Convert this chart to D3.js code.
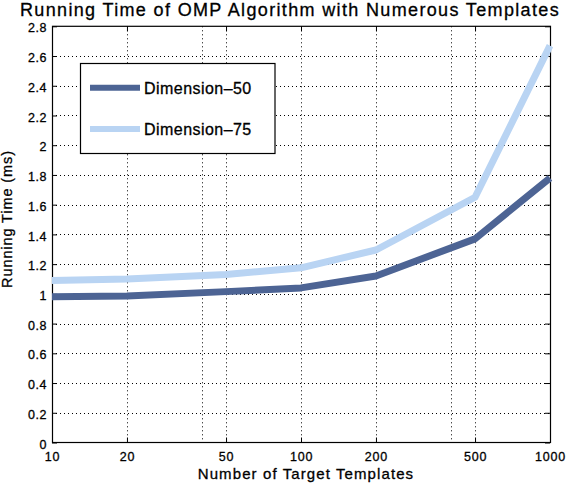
<!DOCTYPE html>
<html><head><meta charset="utf-8">
<script src="https://cdn.jsdelivr.net/npm/d3@7"></script>
<style>body{margin:0;background:#fff}svg{display:block}text{font-family:"Liberation Sans",Arial,Helvetica,sans-serif;fill:#000;stroke:#000;stroke-width:0.3px}</style>
</head><body>
<script>
const templates = [10, 20, 50, 100, 200, 500, 1000];
const dim50 = [0.98, 0.985, 1.015, 1.04, 1.12, 1.37, 1.78];
const dim75 = [1.09, 1.10, 1.13, 1.175, 1.295, 1.65, 2.67];
const seriesNames = ["Dimension\u201350", "Dimension\u201375"];
const seriesColors = ["#4d6494", "#b9d4f3"];
const xTickLabels = [10, 20, 50, 100, 200, 500, 1000];
const xGrid = [20, 40, 50, 100, 200, 400, 500];
const yTicks = [0, 0.2, 0.4, 0.6, 0.8, 1, 1.2, 1.4, 1.6, 1.8, 2, 2.2, 2.4, 2.6, 2.8];
const title = "Running Time of OMP Algorithm with Numerous Templates";
const xLabel = "Number of Target Templates";
const yLabel = "Running Time (ms)";

const W = 566, H = 486;
const L = 52, R = 550, T = 26.3, B = 442.5;
const svg = d3.select("body").append("svg").attr("width", W).attr("height", H);
const x = d3.scaleLog().domain([10, 1000]).range([L, R]);
const y = d3.scaleLinear().domain([0, 2.8]).range([B, T]);

// grid
const g = svg.append("g").attr("stroke", "#000").attr("stroke-width", 1).attr("stroke-dasharray", "1,3");
g.selectAll(".vx").data(xGrid).join("line")
  .attr("x1", d => Math.round(x(d)) + 0.5).attr("x2", d => Math.round(x(d)) + 0.5)
  .attr("y1", T).attr("y2", B);
g.selectAll(".hy").data(yTicks.slice(1, -1)).join("line")
  .attr("y1", d => Math.round(y(d)) + 0.5).attr("y2", d => Math.round(y(d)) + 0.5)
  .attr("x1", L).attr("x2", R);

// axes
const xAxisB = d3.axisBottom(x).tickValues(xTickLabels).tickFormat(d3.format("d")).tickSizeInner(-5).tickSizeOuter(0).tickPadding(10);
const ax = svg.append("g").attr("transform", `translate(0,${B})`).call(xAxisB);
ax.select(".domain").remove();
ax.selectAll("text").attr("font-size", 12.5).attr("letter-spacing", 0.8).attr("font-family", "Liberation Sans, Arial, sans-serif");
const axT = svg.append("g").attr("transform", `translate(0,${T})`).call(d3.axisTop(x).tickValues(xTickLabels).tickSizeInner(-5).tickSizeOuter(0).tickFormat(""));
axT.select(".domain").remove();
const yAxisL = d3.axisLeft(y).tickValues(yTicks).tickFormat(d => d3.format("")(+d.toFixed(1))).tickSizeInner(-5).tickSizeOuter(0).tickPadding(5);
const ay = svg.append("g").attr("transform", `translate(${L},0)`).call(yAxisL);
ay.select(".domain").remove();
ay.selectAll("text").attr("font-size", 12.5).attr("letter-spacing", 0.5).attr("dy", "0.45em").attr("font-family", "Liberation Sans, Arial, sans-serif");
const ayR = svg.append("g").attr("transform", `translate(${R},0)`).call(d3.axisRight(y).tickValues(yTicks).tickSizeInner(-5).tickSizeOuter(0).tickFormat(""));
ayR.select(".domain").remove();
svg.selectAll(".tick line").attr("stroke", "#000");
svg.append("rect").attr("x", L + 0.5).attr("y", T).attr("width", R - L).attr("height", B - T)
  .attr("fill", "none").attr("stroke", "#000").attr("stroke-width", 1.2);

// lines
const line = d3.line().x((d, i) => x(templates[i])).y(d => y(d));
[dim50, dim75].forEach((s, k) => {
  svg.append("path").datum(s).attr("d", line).attr("fill", "none")
    .attr("stroke", seriesColors[k]).attr("stroke-width", 7).attr("stroke-linejoin", "round");
});

// legend
const lg = svg.append("g");
lg.append("rect").attr("x", 80.5).attr("y", 63.5).attr("width", 194.5).attr("height", 90)
  .attr("fill", "#fff").attr("stroke", "#000").attr("stroke-width", 1.2);
seriesNames.forEach((n, k) => {
  const yy = [87.7, 129][k];
  lg.append("line").attr("x1", 90).attr("x2", 140).attr("y1", yy).attr("y2", yy)
    .attr("stroke", seriesColors[k]).attr("stroke-width", 6);
  lg.append("text").attr("x", 144).attr("y", yy + 5.8).attr("font-size", 16).attr("letter-spacing", 0.45).text(n);
});

// labels
svg.append("text").attr("x", 290).attr("y", 15.5).attr("text-anchor", "middle").attr("font-size", 18).attr("letter-spacing", 1.35).text(title);
svg.append("text").attr("x", 306).attr("y", 479).attr("text-anchor", "middle").attr("font-size", 15).attr("letter-spacing", 1.1).text(xLabel);
svg.append("text").attr("transform", `translate(12,219) rotate(-90)`).attr("text-anchor", "middle").attr("font-size", 14.5).attr("letter-spacing", 0.9).text(yLabel);
</script>
</body></html>
